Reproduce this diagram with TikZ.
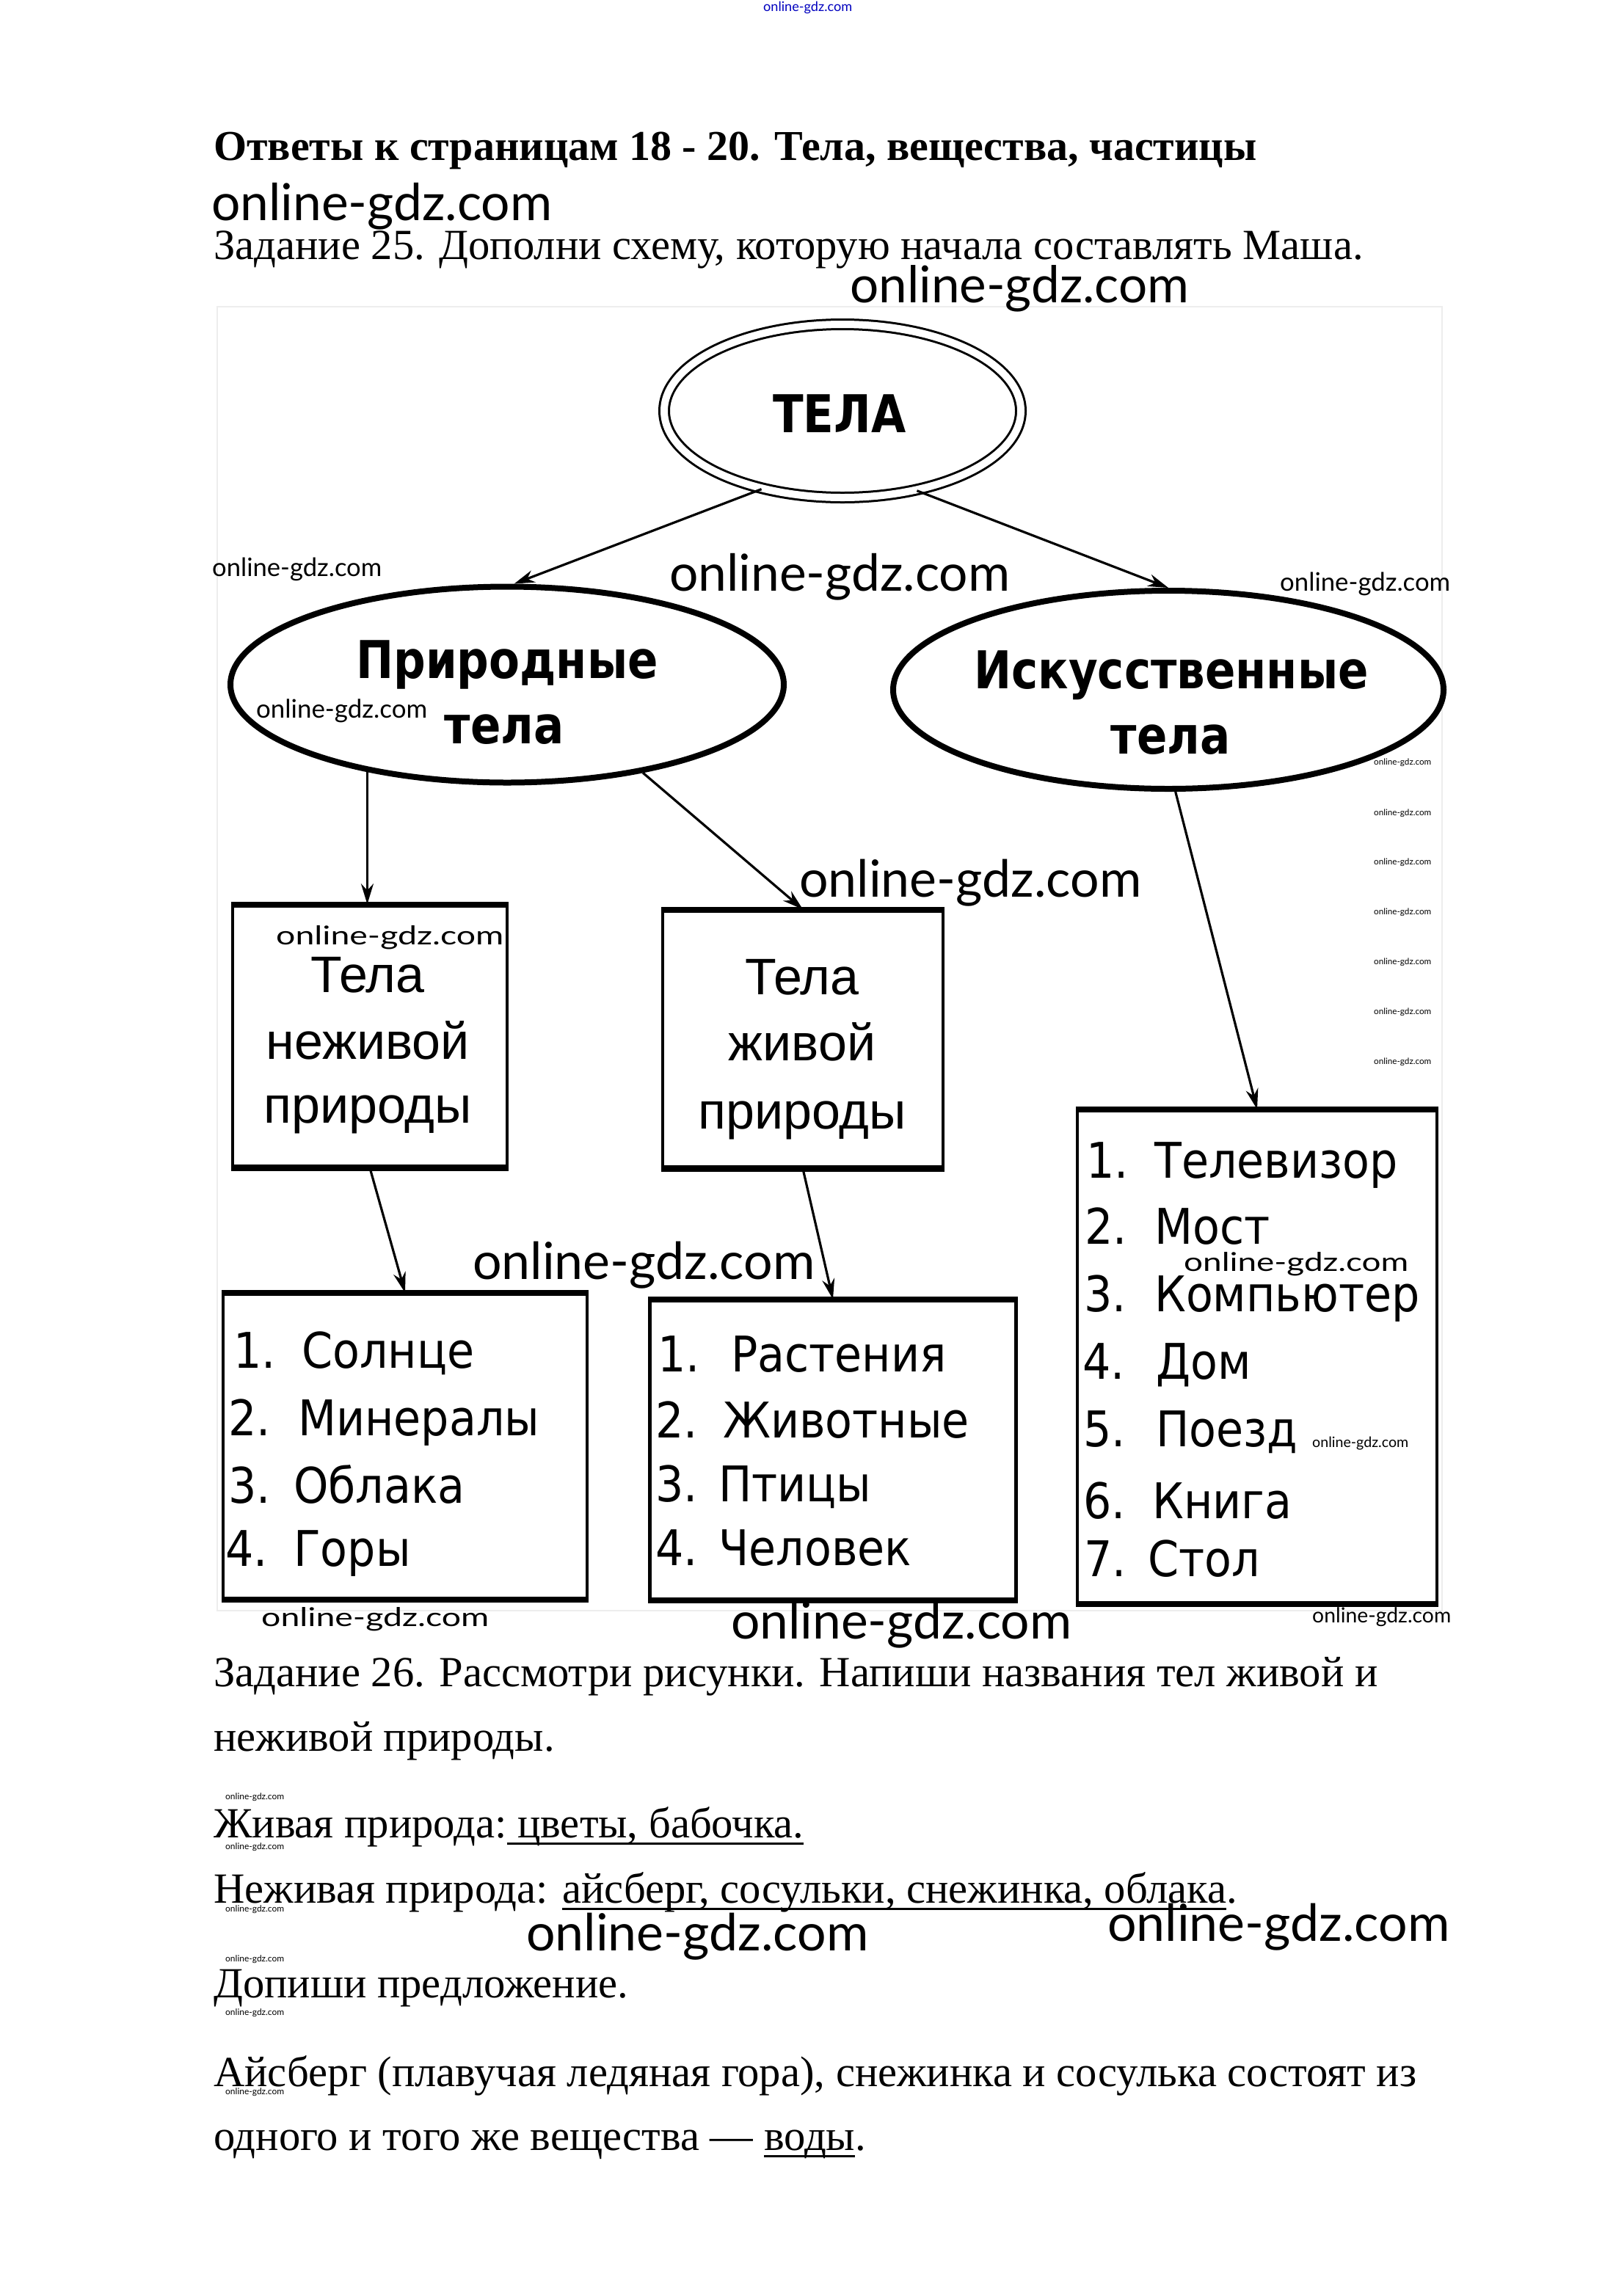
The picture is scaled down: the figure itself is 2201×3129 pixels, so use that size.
\documentclass[tikz,border=0pt]{standalone}
\usepackage{fontspec}
\setmainfont{Liberation Serif}
\newfontfamily\arialf{Liberation Sans}
\newfontfamily\dejaf{DejaVu Sans}
\newfontfamily\latof{Lato}
\usetikzlibrary{shapes.geometric,arrows.meta}
\newcommand\wmk[1]{\resizebox{#1pt}{!}{\latof online-gdz.com}}
\newcommand\wmkh[2]{\resizebox{#1pt}{#2pt}{\latof online-gdz.com}}
\newcommand\sx[1]{\scalebox{0.9}[1]{#1}}
\newcommand\sxb[1]{\scalebox{0.86}[1]{#1}}
\newcommand\li[3]{\makebox[#1pt][l]{\sx{#2}}\sx{#3}}
\newcommand\ulx[1]{\setbox0\hbox{#1}\rlap{\rule[-10pt]{\wd0}{3.5pt}}\box0}
\tikzset{
  body/.style={anchor=base west, inner sep=0pt, font=\fontsize{58.6}{60}\selectfont},
  titletxt/.style={anchor=base west, inner sep=0pt, font=\bfseries\fontsize{58}{60}\selectfont},
  wm/.style={anchor=base west, inner sep=0pt},
  oval/.style={ellipse, draw, line width=8pt, inner sep=0pt},
  ovaltxt/.style={anchor=base, inner sep=0pt, font=\dejaf\bfseries\fontsize{71}{80}\selectfont},
  box/.style={draw, line width=4.5pt, inner sep=0pt},
  boxtxt/.style={anchor=base, inner sep=0pt, font=\arialf\fontsize{70}{80}\selectfont},
  item/.style={anchor=base west, inner sep=0pt, font=\dejaf\fontsize{67}{70}\selectfont},
  arr/.style={line width=3.2pt, -{Stealth[length=28pt, width=17pt]}},
  edge/.style={line width=7.5pt}
}
\begin{document}
\begin{tikzpicture}[x=1pt, y=-1pt]
\fill[white] (0,0) rectangle (2201,3129);
\useasboundingbox (0,0) rectangle (2201,3129);

% faint frame of the scanned diagram
\draw[black!7, line width=2pt] (296,418) rectangle (1965,2195);

% heading texts
\node[wm, text=blue!75!black] (wtop) at (1040,16) {\wmk{121}};
\node[titletxt] (title) at (291,218) {Ответы к страницам 18 - 20. Тела, вещества, частицы};
\node[wm] (wb1) at (288,300) {\wmk{464}};
\node[body] (z25) at (291,353) {Задание 25. Дополни схему, которую начала составлять Маша.};
\node[wm] (wb2) at (1158,412) {\wmk{462}};

% top ellipse
\node[ellipse, draw, line width=3pt, double, double distance=10pt, minimum width=486pt, minimum height=236pt, inner sep=0pt] (tela) at (1148,560) {};
\node[ovaltxt] (telat) at (1144,589) {\sxb{ТЕЛА}};

% second level ellipses
\node[oval, minimum width=754pt, minimum height=267pt] (prir) at (691,933) {};
\node[ovaltxt] (prir1) at (691,924) {\sxb{Природные}};
\node[ovaltxt] (prir2) at (687,1013) {\sxb{тела}};
\node[oval, minimum width=750pt, minimum height=270pt] (isk) at (1592,940) {};
\node[ovaltxt] (isk1) at (1596,938) {\sxb{Искусственные}};
\node[ovaltxt] (isk2) at (1595,1027) {\sxb{тела}};

% boxes
\node[box, minimum width=374pt, minimum height=355pt] (b1) at (504,1412) {};
\node[box, minimum width=382pt, minimum height=349pt] (b2) at (1094,1416) {};
\node[box, minimum width=496pt, minimum height=414pt] (l1) at (552,1971) {};
\node[box, minimum width=499pt, minimum height=406pt] (l2) at (1135,1976) {};
\node[box, minimum width=490pt, minimum height=670pt] (l3) at (1713,1849) {};
\foreach \b in {b1,b2,l1,l2,l3}{
  \draw[edge] (\b.north west) -- (\b.north east);
  \draw[edge] (\b.south west) -- (\b.south east);
}

\node[boxtxt] (b1a) at (501,1352) {Тела};
\node[boxtxt] (b1b) at (501,1443) {неживой};
\node[boxtxt] (b1c) at (501,1530) {природы};
\node[boxtxt] (b2a) at (1093,1355) {Тела};
\node[boxtxt] (b2b) at (1093,1445) {живой};
\node[boxtxt] (b2c) at (1093,1538) {природы};

\node[item] (i11) at (318,1864) {\li{93}{1.}{Солнце}};
\node[item] (i12) at (311,1956) {\li{95}{2.}{Минералы}};
\node[item] (i13) at (311,2048) {\li{89}{3.}{Облака}};
\node[item] (i14) at (307,2134) {\li{93}{4.}{Горы}};

\node[item] (i21) at (896,1869) {\li{100}{1.}{Растения}};
\node[item] (i22) at (893,1959) {\li{92}{2.}{Животные}};
\node[item] (i23) at (893,2046) {\li{86}{3.}{Птицы}};
\node[item] (i24) at (893,2133) {\li{86}{4.}{Человек}};

\node[item] (i31) at (1480,1605) {\li{93}{1.}{Телевизор}};
\node[item] (i32) at (1478,1695) {\li{95}{2.}{Мост}};
\node[item] (i33) at (1477,1787) {\li{96}{3.}{Компьютер}};
\node[item] (i34) at (1475,1879) {\li{100}{4.}{Дом}};
\node[item] (i35) at (1476,1971) {\li{99}{5.}{Поезд}};
\node[item] (i36) at (1476,2069) {\li{94}{6.}{Книга}};
\node[item] (i37) at (1477,2148) {\li{87}{7.}{Стол}};

% arrows
\draw[arr] (tela.224.5) -- (prir.86);
\draw[arr] (tela.313) -- (isk.90);
\draw[arr] (prir.212.6) -- (prir.212.6 |- b1.north);
\draw[arr] (prir.-33) -- (b2.north);
\draw[arr] (isk.-86) -- (l3.north);
\draw[arr] (b1.south) -- (l1.north);
\draw[arr] (b2.south) -- (l2.north);

% watermarks in the diagram
\node[wm] (ws1) at (289,785) {\wmk{231}};
\node[wm] (wb3) at (912,805) {\wmk{464}};
\node[wm] (ws2) at (1744,805) {\wmk{232}};
\node[wm] (ws3) at (349,978) {\wmk{233}};
\node[wm] (wb4) at (1089,1222) {\wmk{466}};
\node[wm] (wm1) at (376,1287) {\wmkh{310}{26}};
\node[wm] (wb5) at (644,1743) {\wmk{466}};
\node[wm] (wm2) at (1613,1732) {\wmkh{306}{26}};
\node[wm] (wt8) at (1788,1972) {\wmk{131}};
\node[wm] (wm3) at (356,2216) {\wmkh{310}{26}};
\node[wm] (wb6) at (996,2233) {\wmk{464}};
\node[wm] (ws4) at (1788,2211) {\wmk{189}};
\foreach \yy [count=\k] in {1042,1111,1178,1246,1314,1382,1450}
  \node[wm] (wc\k) at (1872,\yy) {\wmk{78}};

% task 26
\node[body] (z26) at (291,2298) {Задание 26. Рассмотри рисунки. Напиши названия тел живой и};
\node[body] (z26b) at (291,2386) {неживой природы.};
\node[body] (zhiv) at (291,2504) {Живая природа:\ulx{\ цветы, бабочка.}};
\node[body] (nezh) at (291,2593) {Неживая природа: \ulx{айсберг, сосульки, снежинка, облака}.};
\node[wm] (wb7) at (717,2658) {\wmk{466}};
\node[wm] (wb8) at (1509,2645) {\wmk{466}};
\node[body] (dop) at (291,2722) {Допиши предложение.};
\node[body] (ais) at (291,2843) {Айсберг (плавучая ледяная гора), снежинка и сосулька состоят из};
\node[body] (odn) at (291,2930) {одного и того же вещества — \ulx{воды}.};
\foreach \yy [count=\k] in {2452,2520,2605,2673,2746,2854}
  \node[wm] (wl\k) at (307,\yy) {\wmk{80}};
\end{tikzpicture}
\end{document}
